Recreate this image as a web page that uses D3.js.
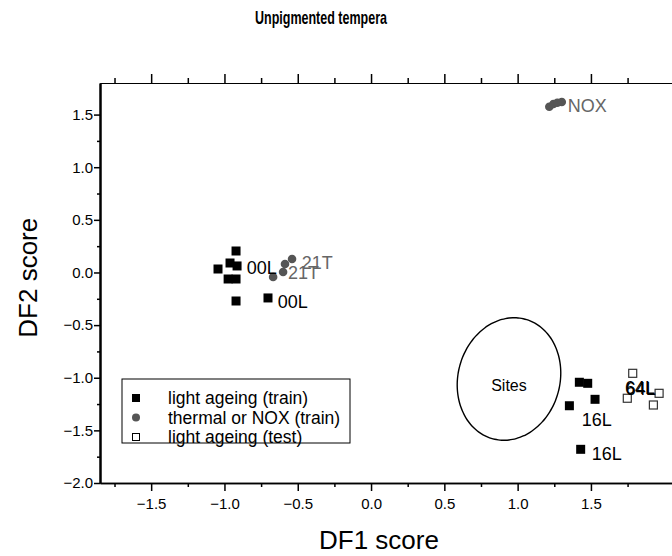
<!DOCTYPE html>
<html>
<head>
<meta charset="utf-8">
<script src="https://cdn.jsdelivr.net/npm/d3@7"></script>
<style>
body { margin: 0; background: #fff; }
svg { font-family: Arial, "Liberation Sans", sans-serif; }
</style>
</head>
<body>
<script>
// DF1 / DF2 scores
var lightTrain = [
	[-0.921, 0.204], [-1.044, 0.033], [-0.962, 0.090], [-0.914, 0.062],
	[-0.975, -0.062], [-0.921, -0.062], [-0.921, -0.271], [-0.703, -0.242],
	[1.421, -1.043], [1.478, -1.053], [1.528, -1.205], [1.353, -1.266], [1.430, -1.680]
];
var thermalNox = [
	[-0.668, -0.043], [-0.587, 0.081], [-0.539, 0.128], [-0.600, 0.005],
	[1.216, 1.575], [1.244, 1.601], [1.271, 1.613], [1.301, 1.620]
];
var lightTest = [
	[1.785, -0.958], [1.748, -1.195], [1.965, -1.148], [1.926, -1.259]
];
var pointLabels = [
	{text: "00L", x: -0.848, y: 0.043, grey: false},
	{text: "00L", x: -0.636, y: -0.278, grey: false},
	{text: "21T", x: -0.473, y: 0.090, grey: true},
	{text: "21T", x: -0.566, y: -0.005, grey: true},
	{text: "NOX", x: 1.342, y: 1.582, grey: true},
	{text: "16L", x: 1.437, y: -1.395, grey: false},
	{text: "16L", x: 1.505, y: -1.722, grey: false},
	{text: "64L", x: 1.733, y: -1.095, grey: false},
	{text: "64L", x: 1.738, y: -1.100, grey: false}
];
// Sites region: centre and half widths in score units
var sitesCentre = [0.941, -1.012];
var sitesRadius = [0.348, 0.589];
var legendNames = ["light ageing (train)", "thermal or NOX (train)", "light ageing (test)"];
var xMajor = [-1.5, -1.0, -0.5, 0.0, 0.5, 1.0, 1.5];
var xMinor = [-1.75, -1.25, -0.75, -0.25, 0.25, 0.75, 1.25, 1.75];
var yMajor = [-2.0, -1.5, -1.0, -0.5, 0.0, 0.5, 1.0, 1.5];
var yMinor = [-1.75, -1.25, -0.75, -0.25, 0.25, 0.75, 1.25];

var width = 672, height = 556;
var svg = d3.select("body").append("svg")
	.attr("width", width)
	.attr("height", height);

var x = d3.scaleLinear().domain([-1.849, 2.053]).range([100, 672]);
var y = d3.scaleLinear().domain([-2.0, 1.8]).range([483, 83]);
var fmt = d3.format(".1f");

// title and axis names
svg.append("text")
	.attr("x", 321).attr("y", 24)
	.attr("text-anchor", "middle")
	.attr("font-weight", "bold")
	.attr("font-size", 19)
	.attr("textLength", 132)
	.attr("lengthAdjust", "spacingAndGlyphs")
	.text("Unpigmented tempera");

svg.append("text")
	.attr("x", 379).attr("y", 549)
	.attr("text-anchor", "middle")
	.attr("font-size", 26)
	.text("DF1 score");

svg.append("text")
	.attr("transform", "translate(37," + y(-0.05) + ") rotate(-90)")
	.attr("text-anchor", "middle")
	.attr("font-size", 26)
	.text("DF2 score");

// axes
function styleAxis(g, w) {
	g.select(".domain").attr("stroke", "#000").attr("stroke-width", w);
	g.selectAll(".tick line").attr("stroke", "#000").attr("stroke-width", 1.5);
	g.selectAll(".tick text").attr("font-size", 15).attr("fill", "#000")
		.attr("font-family", "Arial, 'Liberation Sans', sans-serif");
}

var gx = svg.append("g").attr("transform", "translate(0,483)")
	.call(d3.axisBottom(x).tickValues(xMajor).tickSize(8).tickSizeOuter(0).tickPadding(7).tickFormat(fmt));
styleAxis(gx, 1.5);
var gx2 = svg.append("g").attr("transform", "translate(0,483)")
	.call(d3.axisBottom(x).tickValues(xMinor).tickSize(4).tickSizeOuter(0).tickFormat(""));
styleAxis(gx2, 1.5);

var gt = svg.append("g").attr("transform", "translate(0,83)")
	.call(d3.axisTop(x).tickValues(xMajor).tickSize(9).tickSizeOuter(0).tickFormat(""));
styleAxis(gt, 1);
var gt2 = svg.append("g").attr("transform", "translate(0,83)")
	.call(d3.axisTop(x).tickValues(xMinor).tickSize(5).tickSizeOuter(0).tickFormat(""));
styleAxis(gt2, 1);

var gy = svg.append("g").attr("transform", "translate(100,0)")
	.call(d3.axisLeft(y).tickValues(yMajor).tickSize(6).tickSizeOuter(0).tickPadding(1).tickFormat(fmt));
styleAxis(gy, 2);
var gy2 = svg.append("g").attr("transform", "translate(100,0)")
	.call(d3.axisLeft(y).tickValues(yMinor).tickSize(3).tickSizeOuter(0).tickFormat(""));
styleAxis(gy2, 2);

// the Sites ellipse, tilted a little to the right
var rx = x(sitesCentre[0] + sitesRadius[0]) - x(sitesCentre[0]);
var ry = y(sitesCentre[1]) - y(sitesCentre[1] + sitesRadius[1]);
var ell = d3.range(0, 360, 4).map(function(a) {
	var t = a * Math.PI / 180;
	return [rx * Math.cos(t), ry * Math.sin(t)];
});
svg.append("path")
	.attr("transform", "translate(" + x(sitesCentre[0]) + "," + y(sitesCentre[1]) + ") rotate(15)")
	.attr("d", d3.line().curve(d3.curveBasisClosed)(ell))
	.attr("fill", "none")
	.attr("stroke", "#000")
	.attr("stroke-width", 1.4);
svg.append("text")
	.attr("x", x(sitesCentre[0])).attr("y", y(sitesCentre[1]) + 12)
	.attr("text-anchor", "middle")
	.attr("font-size", 16)
	.text("Sites");

// points
svg.append("g").selectAll("rect")
	.data(lightTrain)
	.enter()
	.append("rect")
	.attr("x", function(d) { return x(d[0]) - 4.5; })
	.attr("y", function(d) { return y(d[1]) - 4.5; })
	.attr("width", 9).attr("height", 9)
	.attr("fill", "#000");

svg.append("g").selectAll("circle")
	.data(thermalNox)
	.enter()
	.append("circle")
	.attr("cx", function(d) { return x(d[0]); })
	.attr("cy", function(d) { return y(d[1]); })
	.attr("r", 4.3)
	.attr("fill", "#555");

svg.append("g").selectAll("rect")
	.data(lightTest)
	.enter()
	.append("rect")
	.attr("x", function(d) { return x(d[0]) - 4; })
	.attr("y", function(d) { return y(d[1]) - 4; })
	.attr("width", 8).attr("height", 8)
	.attr("fill", "#fff")
	.attr("stroke", "#333")
	.attr("stroke-width", 1.2);

svg.append("g").selectAll("text")
	.data(pointLabels)
	.enter()
	.append("text")
	.attr("x", function(d) { return x(d.x); })
	.attr("y", function(d) { return y(d.y); })
	.attr("dy", "0.35em")
	.attr("font-size", 18)
	.attr("fill", function(d) { return d.grey ? "#666" : "#000"; })
	.text(function(d) { return d.text; });

// legend
var lg = svg.append("g").attr("transform", "translate(122,379)");
lg.append("rect")
	.attr("width", 228).attr("height", 64)
	.attr("fill", "#fff")
	.attr("stroke", "#000")
	.attr("stroke-width", 1);
var rows = lg.selectAll("g.row")
	.data(legendNames)
	.enter()
	.append("g")
	.attr("class", "row")
	.attr("transform", function(d, i) { return "translate(0," + (19 + i * 19.5) + ")"; });
rows.append("text")
	.attr("x", 46)
	.attr("dy", "0.35em")
	.attr("font-size", 17.5)
	.text(function(d) { return d; });
rows.each(function(d, i) {
	var r = d3.select(this);
	if (i == 0) r.append("rect").attr("x", 10).attr("y", -4).attr("width", 8).attr("height", 8).attr("fill", "#000");
	if (i == 1) r.append("circle").attr("cx", 14).attr("cy", 0).attr("r", 4).attr("fill", "#555");
	if (i == 2) r.append("rect").attr("x", 10.5).attr("y", -3.5).attr("width", 7).attr("height", 7)
		.attr("fill", "#fff").attr("stroke", "#000");
});
</script>
</body>
</html>
